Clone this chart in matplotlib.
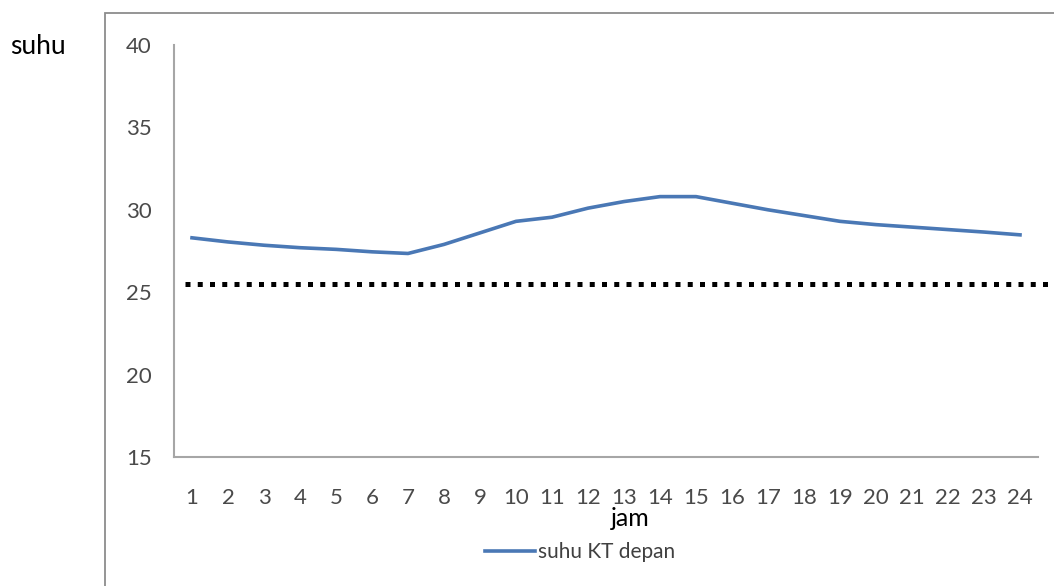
import matplotlib
matplotlib.use("Agg")
import matplotlib.pyplot as plt
from matplotlib.patches import Rectangle

plt.rcParams["font.family"] = ["Lato", "DejaVu Sans"]

# hourly front-room temperature (suhu KT depan)
jam = list(range(1, 25))
suhu_kt_depan = [28.3, 28.05, 27.85, 27.7, 27.6, 27.45, 27.35, 27.9, 28.6, 29.3,
                 29.55, 30.1, 30.5, 30.8, 30.8, 30.4, 30.0, 29.65, 29.3, 29.1,
                 28.95, 28.8, 28.65, 28.48]
batas_nyaman = 25.5
y_ticks = [15, 20, 25, 30, 35, 40]

W, H = 1054, 586
fig = plt.figure(figsize=(W / 100, H / 100), dpi=100)
ax = fig.add_axes([174 / W, 1 - 457 / H, 864 / W, 412 / H])

# chart-area frame
fig.patches.append(Rectangle((105 / W, -0.05), 1.0, 1 - 13 / H + 0.05,
                             transform=fig.transFigure, fill=False,
                             edgecolor="#8c8c8c", linewidth=1.3))

ax.plot(jam, suhu_kt_depan, color="#4a78b5", linewidth=2.6,
        solid_joinstyle="round", label="suhu KT depan")
ax.axhline(batas_nyaman, xmin=11 / 864, xmax=880 / 864, color="black",
           linewidth=3.6, linestyle=(0, (1, 1.45)), clip_on=False)

ax.set_xlim(0.5, 24.5)
ax.set_ylim(15, 40)
ax.set_xticks(jam)
ax.set_xticklabels([str(j) for j in jam])
ax.set_yticks(y_ticks)
ax.tick_params(axis="x", length=0, pad=22, labelsize=16, labelcolor="#4a4a4a")
ax.tick_params(axis="y", length=0, pad=16, labelsize=16, labelcolor="#4a4a4a")

for side in ("top", "right"):
    ax.spines[side].set_visible(False)
for side in ("left", "bottom"):
    ax.spines[side].set_color("#a6a6a6")
    ax.spines[side].set_linewidth(1.5)

fig.text(10 / W, 1 - 47 / H, "suhu", fontsize=19, color="black", va="center", ha="left")
fig.text(630 / W, 1 - 518 / H, "jam", fontsize=18, color="black", va="center", ha="center")

fig.legend(loc="center", bbox_to_anchor=(580 / W, 1 - 552 / H), frameon=False,
           fontsize=15, handlelength=2.4, handletextpad=0.15, labelcolor="#404040")

fig.savefig("out.png", dpi=100, facecolor="white")
